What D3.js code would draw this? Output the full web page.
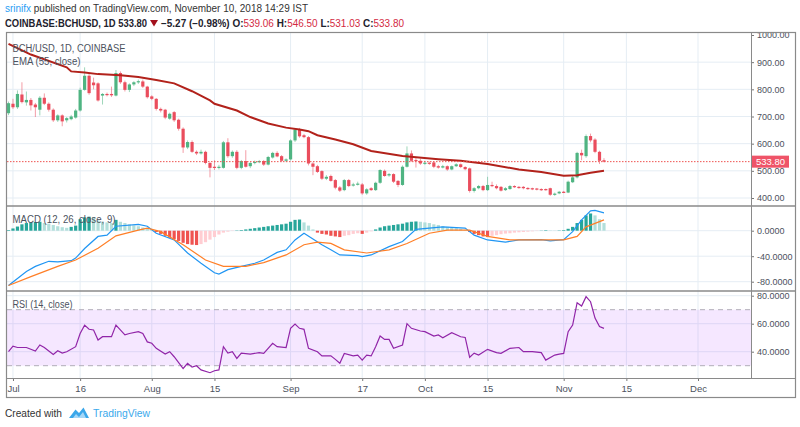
<!DOCTYPE html>
<html><head><meta charset="utf-8">
<script src="https://cdn.jsdelivr.net/npm/d3@7"></script>
<style>body{margin:0;background:#fff}svg{display:block;font-family:"Liberation Sans",Arial,sans-serif}</style>
</head><body><svg id="c" width="800" height="427"></svg>
<script>
// ---------- DATA ----------
const startDay = [2018, 5, 30]; // first candle: 30 Jun 2018, one per day
const open  = [712,747,734,781,752,761,744,725,769,747,725,686,704,686,690,696,722,798,850,825,822,777,783,783,777,860,826,798,818,826,829,810,774,765,728,725,692,716,688,655,586,606,570,564,570,529,515,511,511,605,554,570,511,536,517,529,533,536,523,549,566,554,537,542,612,652,631,624,527,517,499,471,481,466,439,429,466,446,450,450,417,436,429,456,500,483,488,463,448,515,564,540,537,527,530,531,517,512,517,505,517,524,514,509,426,436,444,429,448,444,441,429,433,444,441,441,437,436,435,433,433,436,412,417,423,420,458,476,566,554,628,615,570,539.06];
const high  = [755,765,796,826,792,768,750,775,785,752,730,708,708,698,706,728,806,881,860,843,826,786,788,810,871,866,832,822,830,836,836,813,778,768,733,728,714,720,692,660,612,612,575,578,574,532,539,522,610,620,575,576,540,576,532,538,540,540,555,570,572,558,546,616,656,658,636,628,532,522,502,484,486,470,444,470,470,456,460,455,436,440,460,506,505,492,491,466,520,590,575,551,545,536,534,534,522,522,520,520,528,527,517,512,440,448,448,478,460,450,444,440,448,447,444,444,440,438,437,436,435,438,420,426,426,464,482,570,578,634,637,620,574,546.5];
const low   = [705,728,728,748,740,722,698,704,742,718,680,680,664,678,686,692,718,795,780,800,755,744,774,772,774,820,792,790,812,820,805,766,760,722,715,690,688,680,648,566,580,566,558,560,524,476,503,505,508,548,548,506,506,512,510,524,528,518,520,545,550,532,532,538,606,622,620,520,484,492,466,466,460,432,422,425,440,442,446,412,412,426,426,452,478,478,455,440,445,512,533,512,522,522,522,510,508,509,500,502,514,510,502,420,420,432,425,426,440,432,424,426,430,437,434,432,430,429,428,426,427,408,408,414,418,418,455,472,539,548,605,565,525,531.03];
const close = [749,734,783,753,761,741,734,769,747,725,686,704,682,694,700,722,798,850,786,815,759,783,779,778,860,826,798,818,826,830,810,771,765,728,722,696,710,686,655,586,606,570,564,570,529,511,511,515,605,554,570,511,536,515,529,533,536,523,551,566,553,537,542,612,652,627,624,527,515,496,471,478,463,438,427,466,444,450,453,417,432,429,456,503,481,488,460,448,515,564,537,537,527,530,527,515,512,517,505,517,524,514,506,426,436,444,429,448,444,436,427,436,444,440,437,436,433,432,431,429,430,412,416,423,421,460,476,566,557,628,612,570,537,533.8];
const lastPrice = 533.8;

// Indicator lines: [candle index (0 = 30 Jun), value]
const emaPts = [[0,967],[5,928],[13,881],[14,866],[17,862],[20,856],[25,852],[29,845],[33,834],[37,822],[41,793],[45,759],[46,747],[51,722],[54,698],[58,674],[62,659],[65,652],[67,646],[69,631],[73,615],[77,598],[81,573],[88,555],[96,543],[101,537],[107,525],[114,505],[119,496],[124,482],[127,484],[130,493],[133,500]];
const macdPts = [[0,-86],[4,-64],[6,-56],[9,-48],[11,-49],[14,-47],[15,-43],[17,-28],[20,-9],[22,-7],[24,7],[29,10],[31,7],[33,-4],[37,-14.5],[40,-35],[43,-51],[46,-66],[47,-68],[49,-61],[52,-56],[55,-51],[57,-46],[60,-34],[62,-30],[64,-14.5],[66,-4],[70,-22],[72,-30],[74,-38],[78,-39],[79,-40.5],[81,-38],[85,-25],[88,-17],[91,2],[97,6],[102,4],[104,-7],[107,-14.5],[111,-18],[114,-14.5],[119,-14],[121,-16],[124,-14],[126,-1.5],[128,17],[130,31],[131,32],[133,28]];
const signalPts = [[0,-86],[5,-72],[11,-56],[15,-46],[20,-27.5],[24,-8],[29,1],[31,4],[34,-1.5],[39,-22],[44,-46],[48,-56],[53,-56],[57,-50],[62,-38],[66,-22],[69,-18],[72,-20],[75,-30],[80,-35],[85,-30],[89,-20],[94,-4],[98,1],[103,1],[107,-9],[112,-14.5],[119,-14.5],[124,-14.5],[127,-9],[129,6],[131,11.5],[133,17]];
const hist = [1,3.5,6.5,10,12,13,13.5,14,12,11,9,7,5.5,4.5,6,8,18,21,22,21,16,14,13,12,17,14,12,10,8.5,7,5,3,1,-2,-5,-8,-11,-13,-16,-19,-21,-22,-22.5,-21,-18,-14,-10,-6,-3,-1.5,-0.5,0.5,1,2,3,4,5,6,7,8,9,10,11,14,17,17.5,13,8,2,-3,-5,-6,-8,-9,-10,-8,-7,-5,-4,-5,-3,-1,2,5,7,8,9,10,11,13,14,14.5,14,13,12,10,9,7,6,5,4,3,1.5,-2,-5,-7,-9,-10,-8,-7,-5.5,-4.5,-4,-3,-2.5,-2,-1.5,-1,-0.5,0.3,0.8,0.5,0.3,0.5,1,3,6,12,17,24,27,24,18,12];
const rsiPts = [[0,40],[1,44],[2,43],[4,43],[6,40.5],[7,44.8],[8,43],[10,38],[11,40.7],[12,39],[13,40],[15,43.6],[16,53],[17,59],[18,56],[19,55.5],[20,48.3],[21,50.7],[23,50.7],[24,59],[26,52],[27,53],[29,54.3],[30,53],[31,47],[32,46],[33,42.4],[35,38.3],[36,40],[37,36.4],[39,28],[40,31.7],[41,29],[42,30],[43,27],[45,25],[46,26.4],[47,27],[48,43.6],[49,39],[50,40],[51,35.2],[52,39],[54,38.3],[56,39.3],[57,38.8],[59,46],[60,43.6],[62,43],[63,56.7],[64,59.8],[65,56.7],[66,56],[67,42.4],[69,40],[70,37],[72,37],[73,34.5],[74,31.7],[75,38.8],[77,37],[78,37.6],[79,34],[80,37.6],[81,37],[82,43.6],[83,51.2],[84,48.8],[85,48.8],[86,42.4],[88,44.8],[89,60],[90,56.7],[92,54.8],[93,54.3],[95,51.2],[96,52],[97,50],[99,53.6],[101,50.7],[102,50.2],[103,36],[104,39],[105,37.6],[107,41.7],[109,39.3],[110,38.8],[112,42.4],[114,43],[115,40],[117,40],[119,39.3],[120,34],[122,37.6],[123,38.3],[124,38.8],[125,54.3],[126,59],[127,75],[128,72.6],[129,79.3],[130,75.7],[131,64],[132,58],[133,56.7]];

const priceTicks = [400,500,600,700,800,900,1000];
const macdTicks = [0,-40,-80];
const rsiTicks = [40,60,80];
const timeTicks = [[2018,6,1],[2018,6,16],[2018,7,1],[2018,7,15],[2018,8,1],[2018,8,17],[2018,9,1],[2018,9,15],[2018,10,1],[2018,10,15],[2018,11,1]];
const timeLabels = ["Jul","16","Aug","15","Sep","17","Oct","15","Nov","15","Dec"];

// ---------- SETUP ----------
const svg = d3.select("#c");
const day0 = Date.UTC(...startDay);
const dayDate = i => new Date(day0 + i * 864e5);
const candles = open.map((o,i)=>({d:dayDate(i), o, h:high[i], l:low[i], c:close[i], hv:hist[i], hp: i>0?hist[i-1]:hist[i]}));

const L = 7, R = 751;
const main = {top:32.5, bot:206}, mac = {top:206, bot:291}, rsi = {top:291, bot:378};
const x = d3.scaleUtc().domain([new Date(Date.UTC(2018,5,30)), new Date(Date.UTC(2018,11,1))]).range([8.5, 698]);
const yP = d3.scaleLinear().domain([400,1000]).range([198,35]);
const yM = d3.scaleLinear().domain([-80,0]).range([281.7,230.7]);
const yR = d3.scaleLinear().domain([40,80]).range([351.7,295.7]);
const tDates = timeTicks.map(t=>new Date(Date.UTC(...t)));
const GREEN = "#4fb482", RED = "#ea4d5d", GRID = "#e5edf4", TXT = "#4c525e";

const defs = svg.append("defs");
function clip(id, x0, x1, y0, y1){ defs.append("clipPath").attr("id",id).append("rect").attr("x",x0).attr("y",y0).attr("width",x1-x0).attr("height",y1-y0); }
clip("cm", L, R, main.top, main.bot); clip("cd", L, R, mac.top, mac.bot); clip("cr", L, R, rsi.top, rsi.bot);
clip("ca", R, 796, main.top, main.bot);

// ---------- GRID ----------
const grid = svg.append("g");
grid.selectAll("line.v").data(tDates).join("line")
  .attr("x1",d=>x(d)).attr("x2",d=>x(d)).attr("y1",main.top).attr("y2",rsi.bot).attr("stroke",GRID);
function hgrid(vals, sc){ grid.selectAll(null).data(vals).join("line").attr("x1",L).attr("x2",R).attr("y1",d=>sc(d)).attr("y2",d=>sc(d)).attr("stroke",GRID); }
hgrid(priceTicks.filter(v=>v<1000), yP); hgrid(macdTicks, yM); hgrid(rsiTicks, yR);

const line = (sc) => d3.line().x(p=>x(dayDate(p[0]))).y(p=>sc(p[1]));

// ---------- MAIN PANE ----------
const gm = svg.append("g").attr("clip-path","url(#cm)");
gm.selectAll("line.w").data(candles).join("line")
  .attr("x1",d=>x(d.d)).attr("x2",d=>x(d.d)).attr("y1",d=>yP(d.h)).attr("y2",d=>yP(d.l))
  .attr("stroke",d=>d.c>=d.o?GREEN:RED).attr("stroke-opacity",0.55);
gm.selectAll("rect.b").data(candles).join("rect")
  .attr("x",d=>x(d.d)-1.6).attr("width",3.2)
  .attr("y",d=>yP(Math.max(d.o,d.c))).attr("height",d=>Math.max(1.2,Math.abs(yP(d.o)-yP(d.c))))
  .attr("fill",d=>d.c>=d.o?GREEN:RED);
gm.append("path").attr("d",line(yP)(emaPts)).attr("fill","none").attr("stroke","#b2221b").attr("stroke-width",2);
gm.append("line").attr("x1",L).attr("x2",R).attr("y1",yP(lastPrice)).attr("y2",yP(lastPrice))
  .attr("stroke","#ef5350").attr("stroke-dasharray","1.5,1.5");

// ---------- MACD PANE ----------
const gd = svg.append("g").attr("clip-path","url(#cd)");
function histColor(d){ if(d.hv>=0) return d.hv>=d.hp?"#26a69a":"#b2dfdb"; return d.hv<d.hp?"#ef5350":"#ffcdd2"; }
gd.selectAll("rect").data(candles).join("rect")
  .attr("x",d=>x(d.d)-1.6).attr("width",3.2)
  .attr("y",d=>Math.min(yM(0),yM(d.hv))).attr("height",d=>Math.abs(yM(d.hv)-yM(0)))
  .attr("fill",histColor);
gd.append("path").attr("d",line(yM)(macdPts)).attr("fill","none").attr("stroke","#2196f3").attr("stroke-width",1.2);
gd.append("path").attr("d",line(yM)(signalPts)).attr("fill","none").attr("stroke","#ff7f27").attr("stroke-width",1.2);

// ---------- RSI PANE ----------
const gr = svg.append("g").attr("clip-path","url(#cr)");
gr.append("rect").attr("x",L).attr("width",R-L).attr("y",yR(70)).attr("height",yR(30)-yR(70)).attr("fill","rgba(153,21,255,0.1)");
[70,30].forEach(v=>gr.append("line").attr("x1",L).attr("x2",R).attr("y1",yR(v)).attr("y2",yR(v)).attr("stroke","#b0adb8").attr("stroke-dasharray","5,4"));
gr.append("path").attr("d",line(yR)(rsiPts)).attr("fill","none").attr("stroke","#9125a8").attr("stroke-width",1.2);

// ---------- AXES ----------
function styleAxis(g){ g.select(".domain").remove(); g.selectAll(".tick line").attr("stroke","#777"); g.selectAll(".tick text").attr("fill",TXT).style("font-size","9px").style("font-family","Liberation Sans, Arial, sans-serif"); }
svg.append("g").attr("clip-path","url(#ca)").append("g").attr("transform",`translate(${R},0)`)
  .call(d3.axisRight(yP).tickValues(priceTicks).tickFormat(d=>d.toFixed(2)).tickSize(3).tickPadding(3)).call(styleAxis);
svg.append("g").attr("transform",`translate(${R},0)`)
  .call(d3.axisRight(yM).tickValues(macdTicks).tickFormat(d=>d.toFixed(4)).tickSize(3).tickPadding(3)).call(styleAxis);
svg.append("g").attr("transform",`translate(${R},0)`)
  .call(d3.axisRight(yR).tickValues(rsiTicks).tickFormat(d=>d.toFixed(4)).tickSize(3).tickPadding(3)).call(styleAxis);
svg.append("g").attr("transform",`translate(0,${rsi.bot})`)
  .call(d3.axisBottom(x).tickValues(tDates).tickFormat((d,i)=>timeLabels[i]).tickSize(3).tickPadding(4)).call(styleAxis)
  .selectAll(".tick text").style("font-size","9.5px");

// price tag
const pg = svg.append("g");
pg.append("rect").attr("x",R+1).attr("y",yP(lastPrice)-6).attr("width",37).attr("height",12).attr("fill","#ef5468");
pg.append("text").attr("x",R+5).attr("y",yP(lastPrice)+3.5).attr("fill","#fff").style("font-size","9.5px").text(lastPrice.toFixed(2));

// ---------- FRAME ----------
const fr = svg.append("g").attr("fill","none").attr("stroke","#8a8a8a");
fr.append("rect").attr("x",6.5).attr("y",32.5).attr("width",789).attr("height",365).attr("stroke-width",1.2);
fr.append("line").attr("x1",R+0.5).attr("x2",R+0.5).attr("y1",32.5).attr("y2",rsi.bot);
[main.bot, mac.bot].forEach(y=>fr.append("line").attr("x1",6.5).attr("x2",795.5).attr("y1",y).attr("y2",y).attr("stroke-width",1.3));
fr.append("line").attr("x1",6.5).attr("x2",795.5).attr("y1",rsi.bot+0.5).attr("y2",rsi.bot+0.5).attr("stroke-width",1.2);

// ---------- TEXT ----------
function t(xp, yp, s, len, fill, size, weight){
  const e = svg.append("text").attr("x",xp).attr("y",yp).attr("fill",fill).style("font-size",size+"px").text(s);
  if(weight) e.style("font-weight",weight);
  if(len) e.attr("textLength",len).attr("lengthAdjust","spacingAndGlyphs");
  return e;
}
// header line 1
const h1 = svg.append("text").attr("x",5).attr("y",11.5).style("font-size","10.5px")
  .attr("textLength",303).attr("lengthAdjust","spacingAndGlyphs");
h1.append("tspan").attr("fill","#2a9df4").text("srinifx");
h1.append("tspan").attr("fill","#333").text(" published on TradingView.com, November 10, 2018 14:29 IST");
// header line 2
const HB = "#1e222d", VR = "#d3293f";
t(5,26.5,"COINBASE:BCHUSD, 1D  533.80",142,HB,10,"bold");
svg.append("path").attr("d","M150,20 L158,20 L154,26.5 Z").attr("fill","#a3101d");
const h2 = svg.append("text").attr("x",161).attr("y",26.5).style("font-size","10px")
  .attr("textLength",243).attr("lengthAdjust","spacingAndGlyphs");
[["\u22125.27 (\u22120.98%)  O:",HB],["539.06",VR],["  H:",HB],["546.50",VR],["  L:",HB],["531.03",VR],["  C:",HB],["533.80",VR]]
  .forEach(([s,c])=>h2.append("tspan").attr("fill",c).style("font-weight", c===VR?"normal":"bold").text(s));

t(12.5,52,"BCH/USD, 1D, COINBASE",113,TXT,10);
t(12.5,65,"EMA (55, close)",68,TXT,10);
t(12.5,223,"MACD (12, 26, close, 9)",103,TXT,10);
t(12.5,308,"RSI (14, close)",60,TXT,10);

t(5,417,"Created with",57,"#333",10.5);
svg.append("path").attr("d","M69,418 L75.5,409.5 L79,413 L83.5,407.5 L89,418 Z").attr("fill","#3ba7ea");
svg.append("path").attr("d","M73,418 L76,414 L79,417 L83,412 L86,418 Z").attr("fill","#a6d7f7");
t(93,417,"TradingView",57,"#3aa9ec",10.5);
</script></body></html>
